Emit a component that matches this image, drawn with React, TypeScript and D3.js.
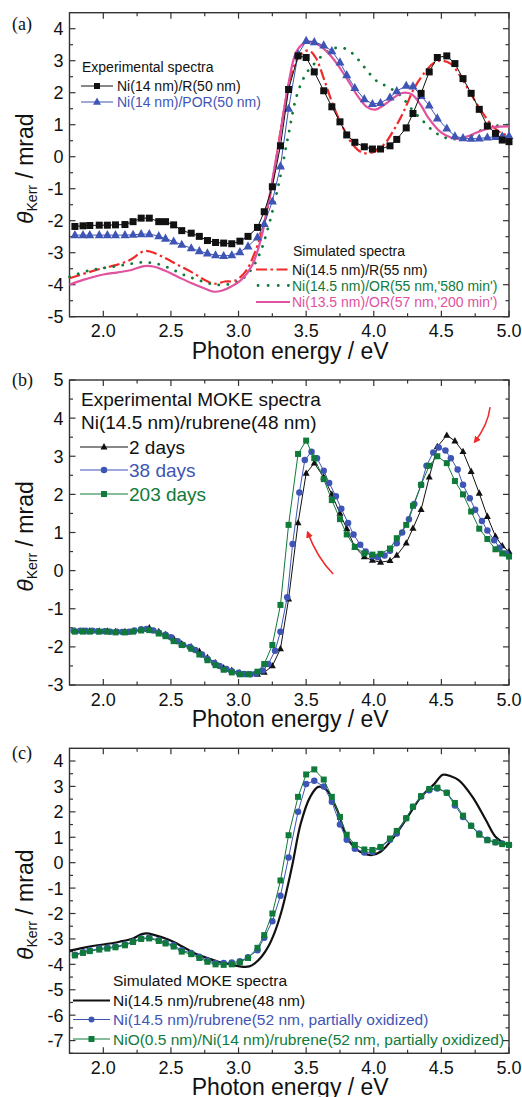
import React from "react";
import * as d3 from "d3";

// ---------------- DATA ----------------
// energy grid of the experimental spectra (eV)
const gridE = [1.79,1.85,1.90,1.97,2.03,2.09,2.16,2.22,2.28,2.34,2.41,2.46,2.52,2.58,2.65,2.71,2.77,2.83,2.89,2.95,3.01,3.07,3.14,3.19,3.25,3.31,3.37,3.44,3.50,3.56,3.63,3.69,3.75,3.80,3.86,3.93,3.99,4.05,4.12,4.17,4.24,4.29,4.35,4.41,4.47,4.54,4.60,4.66,4.72,4.78,4.84,4.90,4.95,5.00];

// (a) experimental
const aNiR = [-2.18,-2.16,-2.15,-2.14,-2.14,-2.13,-2.12,-2.03,-1.92,-1.92,-2.03,-2.03,-2.13,-2.31,-2.39,-2.49,-2.62,-2.68,-2.70,-2.72,-2.64,-2.49,-2.21,-1.72,-0.94,0.34,2.10,3.15,3.10,2.65,2.06,1.56,1.09,0.68,0.45,0.31,0.24,0.24,0.34,0.54,0.90,1.35,1.98,2.65,3.10,3.15,2.91,2.44,1.98,1.48,0.96,0.73,0.52,0.47];
const aNiPOR = [-2.45,-2.45,-2.45,-2.45,-2.45,-2.45,-2.45,-2.44,-2.42,-2.42,-2.48,-2.56,-2.65,-2.75,-2.86,-2.95,-3.02,-3.08,-3.10,-3.08,-2.98,-2.80,-2.52,-2.10,-1.40,-0.30,1.50,3.20,3.62,3.58,3.48,3.30,2.95,2.55,2.15,1.80,1.65,1.68,1.85,2.05,2.22,2.20,1.90,1.60,1.20,0.88,0.64,0.58,0.56,0.57,0.60,0.62,0.64,0.65];

// (a) simulated
const aSimRE = [1.75,1.9,2.0,2.1,2.2,2.3,2.35,2.45,2.55,2.65,2.75,2.82,2.9,2.97,3.05,3.12,3.2,3.27,3.33,3.4,3.46,3.52,3.57,3.63,3.7,3.78,3.85,3.92,4.0,4.08,4.15,4.22,4.3,4.38,4.45,4.5,4.57,4.65,4.72,4.8,4.88,4.95,5.0];
const aSimR = [-3.8,-3.6,-3.48,-3.38,-3.22,-2.95,-2.97,-3.15,-3.38,-3.6,-3.85,-3.97,-3.9,-3.88,-3.6,-3.0,-1.9,-0.3,1.3,2.7,3.2,3.32,3.1,2.45,1.6,0.85,0.35,0.12,0.15,0.4,0.85,1.4,2.15,2.65,2.95,3.0,2.9,2.45,1.95,1.4,0.95,0.72,0.66];
const aSim580E = [1.75,1.9,2.0,2.1,2.2,2.3,2.4,2.5,2.6,2.7,2.8,2.9,3.0,3.08,3.15,3.22,3.3,3.37,3.43,3.5,3.57,3.63,3.7,3.78,3.85,3.93,4.02,4.11,4.2,4.28,4.37,4.45,4.54,4.62,4.7,4.82,4.9,5.0];
const aSim580 = [-3.75,-3.55,-3.48,-3.42,-3.35,-3.3,-3.35,-3.5,-3.7,-3.85,-3.98,-4.0,-3.9,-3.6,-3.1,-2.2,-0.8,0.7,1.9,2.6,2.95,3.2,3.38,3.39,3.2,2.8,2.37,2.17,1.9,1.49,1.09,0.77,0.58,0.55,0.62,0.88,0.96,1.0];
const aSim200E = [1.75,1.85,2.0,2.1,2.2,2.3,2.37,2.45,2.55,2.65,2.75,2.82,2.88,2.95,3.02,3.1,3.17,3.23,3.3,3.37,3.43,3.5,3.57,3.65,3.72,3.8,3.88,3.95,4.01,4.07,4.15,4.21,4.28,4.35,4.40,4.5,4.57,4.63,4.72,4.8,4.9,5.0];
const aSim200 = [-4.0,-3.85,-3.68,-3.62,-3.55,-3.42,-3.43,-3.55,-3.75,-3.95,-4.12,-4.22,-4.18,-4.05,-3.85,-3.4,-2.5,-1.2,0.5,2.3,3.3,3.58,3.55,3.3,2.95,2.45,1.9,1.55,1.47,1.6,1.85,1.99,1.95,1.6,1.24,0.75,0.6,0.56,0.68,0.82,0.93,0.95];

// (b) experimental MOKE, aging
const bDay2 = [-1.58,-1.58,-1.58,-1.59,-1.59,-1.60,-1.60,-1.60,-1.55,-1.50,-1.60,-1.68,-1.78,-1.92,-2.00,-2.12,-2.28,-2.42,-2.55,-2.62,-2.68,-2.72,-2.72,-2.67,-2.50,-2.05,-0.75,1.25,2.55,2.82,2.45,2.00,1.50,1.10,0.62,0.36,0.27,0.22,0.26,0.40,0.72,1.11,1.60,2.45,3.25,3.55,3.40,3.12,2.60,2.03,1.42,0.90,0.65,0.50];
const bDay203 = [-1.60,-1.60,-1.60,-1.60,-1.60,-1.62,-1.62,-1.60,-1.57,-1.56,-1.65,-1.72,-1.85,-1.95,-2.05,-2.20,-2.35,-2.48,-2.60,-2.67,-2.72,-2.72,-2.65,-2.45,-1.95,-0.90,1.20,3.06,3.41,2.95,2.40,1.85,1.35,0.95,0.62,0.45,0.42,0.44,0.58,0.85,1.20,1.70,2.25,2.75,3.00,2.82,2.35,2.00,1.55,1.10,0.83,0.56,0.45,0.37];
const bDay38E = [1.78,1.83,1.87,1.92,1.96,2.01,2.05,2.10,2.14,2.19,2.23,2.28,2.32,2.37,2.41,2.46,2.50,2.55,2.59,2.64,2.68,2.73,2.77,2.82,2.86,2.91,2.95,3.00,3.04,3.09,3.13,3.18,3.22,3.27,3.31,3.36,3.40,3.45,3.49,3.54,3.58,3.63,3.67,3.72,3.76,3.81,3.85,3.90,3.94,3.99,4.03,4.08,4.12,4.17,4.21,4.26,4.30,4.35,4.39,4.44,4.48,4.53,4.57,4.62,4.66,4.71,4.75,4.80,4.84,4.89,4.93,4.98];
const bDay38 = [-1.58,-1.58,-1.58,-1.58,-1.59,-1.59,-1.60,-1.60,-1.61,-1.60,-1.57,-1.54,-1.53,-1.57,-1.63,-1.68,-1.75,-1.85,-1.95,-2.00,-2.08,-2.20,-2.32,-2.42,-2.50,-2.58,-2.64,-2.68,-2.71,-2.72,-2.70,-2.62,-2.45,-2.10,-1.60,-0.70,0.70,2.05,2.90,3.12,2.95,2.62,2.30,1.95,1.62,1.25,0.95,0.68,0.50,0.38,0.35,0.40,0.52,0.72,1.00,1.35,1.75,2.25,2.75,3.10,3.23,3.15,2.95,2.65,2.25,1.90,1.60,1.30,1.05,0.80,0.60,0.45];

// (c) simulated MOKE
const cSimE = [1.75,1.85,1.97,2.05,2.12,2.22,2.28,2.32,2.38,2.48,2.55,2.67,2.77,2.85,2.95,3.02,3.08,3.12,3.17,3.22,3.27,3.32,3.36,3.40,3.46,3.53,3.59,3.65,3.73,3.80,3.88,3.98,4.05,4.15,4.25,4.35,4.45,4.51,4.57,4.63,4.73,4.83,4.90,4.97,5.00];
const cRub48 = [-3.46,-3.35,-3.24,-3.18,-3.11,-2.98,-2.82,-2.78,-2.85,-3.02,-3.2,-3.55,-3.75,-3.9,-4.02,-4.09,-4.08,-3.96,-3.7,-3.3,-2.7,-1.87,-1.0,-0.03,1.54,2.59,2.98,2.87,2.06,1.02,0.49,0.3,0.43,1.02,1.8,2.59,3.11,3.46,3.4,3.24,2.59,1.67,1.02,0.75,0.69];
const cRub52 = [-3.62,-3.52,-3.45,-3.38,-3.35,-3.30,-3.22,-3.10,-2.98,-2.95,-3.05,-3.15,-3.25,-3.45,-3.55,-3.70,-3.85,-3.95,-3.95,-3.93,-3.88,-3.72,-3.45,-2.95,-2.30,-1.30,0.20,2.00,3.10,3.22,3.00,2.40,1.50,0.90,0.55,0.40,0.42,0.60,0.90,1.15,1.75,2.20,2.60,2.85,2.92,2.75,2.25,1.80,1.45,1.15,0.90,0.80,0.75,0.70];
const cNiO = [-3.65,-3.55,-3.48,-3.42,-3.38,-3.33,-3.25,-3.12,-3.00,-2.98,-3.08,-3.18,-3.30,-3.50,-3.60,-3.75,-3.90,-4.00,-4.02,-4.00,-3.92,-3.75,-3.35,-2.85,-2.00,-0.70,1.08,2.59,3.47,3.67,3.27,2.59,1.80,1.10,0.70,0.52,0.50,0.62,0.95,1.25,1.75,2.20,2.62,2.90,2.95,2.75,2.35,1.85,1.45,1.10,0.88,0.80,0.73,0.70];

// ticks
const xMajor = [2.0, 2.5, 3.0, 3.5, 4.0, 4.5, 5.0];
const xMinor = [2.25, 2.75, 3.25, 3.75, 4.25, 4.75];
const yTicksA = [-5, -4, -3, -2, -1, 0, 1, 2, 3, 4];
const yTicksB = [-3, -2, -1, 0, 1, 2, 3, 4, 5];
const yTicksC = [-7, -6, -5, -4, -3, -2, -1, 0, 1, 2, 3, 4];

// labels
const legendA1Title = "Experimental spectra";
const legendA1 = ["Ni(14 nm)/R(50 nm)", "Ni(14 nm)/POR(50 nm)"];
const legendA2Title = "Simulated spectra";
const legendA2 = ["Ni(14.5 nm)/R(55 nm)", "Ni(14.5 nm)/OR(55 nm,'580 min')", "Ni(13.5 nm)/OR(57 nm,'200 min')"];
const legendBTitle = ["Experimental MOKE spectra", "Ni(14.5 nm)/rubrene(48 nm)"];
const legendB = ["2 days", "38 days", "203 days"];
const legendCTitle = "Simulated MOKE spectra";
const legendC = ["Ni(14.5 nm)/rubrene(48 nm)", "Ni(14.5 nm)/rubrene(52 nm, partially oxidized)", "NiO(0.5 nm)/Ni(14 nm)/rubrene(52 nm, partially oxidized)"];

// ---------------- STYLE / LAYOUT ----------------
const FONT = "'Liberation Sans', Arial, Helvetica, sans-serif";
const SERIF = "'Liberation Serif', 'Times New Roman', serif";
const BLACK = "#111111";
const BLUE = "#3f55b5";
const GREEN = "#0f7a3a";
const RED = "#ee2a2a";
const PINK = "#e0529e";
const AXIS = "#333333";

const XL = 69.5, XR = 509;
const x = d3.scaleLinear().domain([1.75, 5.0]).range([XL, XR]);
const yA = d3.scaleLinear().domain([-5, 4.5]).range([316.7, 12.7]);
const yB = d3.scaleLinear().domain([-3, 5]).range([685, 380]);
const yC = d3.scaleLinear().domain([-7.5, 4.5]).range([1053.3, 748.3]);

type Mk = "square" | "triangle" | "circle" | undefined;

function marker(kind: Mk, cx: number, cy: number, s: number, color: string, key: any) {
  if (kind === "square") return <rect key={key} x={cx - s / 2} y={cy - s / 2} width={s} height={s} fill={color} />;
  if (kind === "circle") return <circle key={key} cx={cx} cy={cy} r={s / 2} fill={color} />;
  if (kind === "triangle") {
    const h = s * 0.9;
    return <path key={key} d={`M${cx},${cy - h * 0.62}L${cx + s / 2},${cy + h * 0.38}L${cx - s / 2},${cy + h * 0.38}Z`} fill={color} />;
  }
  return null;
}

function Series({ xs, ys, y, color, mk, ms = 6, lw = 1, dash, cap = "butt", smooth = false }: any) {
  const pts: [number, number][] = xs.map((e: number, i: number) => [x(e), y(ys[i])]);
  const line = d3.line().curve(smooth ? d3.curveCatmullRom.alpha(0.5) : d3.curveLinear)(pts) || "";
  return (
    <g>
      <path d={line} fill="none" stroke={color} strokeWidth={lw} strokeDasharray={dash} strokeLinecap={cap} strokeLinejoin="round" />
      {mk && pts.map((p, i) => marker(mk, p[0], p[1], ms, color, i))}
    </g>
  );
}

function Frame({ y, yTicks, label, labelY }: any) {
  const [b, t] = y.range();
  const minorY: number[] = [];
  yTicks.forEach((v: number) => {
    const m = v + 0.5;
    if (m < y.domain()[1] - 1e-6) minorY.push(m);
  });
  if (y.domain()[0] < yTicks[0] - 0.25) minorY.push(yTicks[0] - 0.5);
  const cy = (b + t) / 2 + 4;
  const ML = 6, MN = 3.5;
  return (
    <g>
      {xMajor.map((v) => (
        <g key={"xm" + v}>
          <line x1={x(v)} x2={x(v)} y1={b} y2={b - ML} stroke={AXIS} strokeWidth={1.2} />
          <line x1={x(v)} x2={x(v)} y1={t} y2={t + ML} stroke={AXIS} strokeWidth={1.2} />
          <text x={x(v)} y={b + 20.5} textAnchor="middle" fontSize={18} fontFamily={FONT} fill={BLACK}>{d3.format(".1f")(v)}</text>
        </g>
      ))}
      {xMinor.map((v) => (
        <g key={"xn" + v}>
          <line x1={x(v)} x2={x(v)} y1={b} y2={b - MN} stroke={AXIS} strokeWidth={1.2} />
          <line x1={x(v)} x2={x(v)} y1={t} y2={t + MN} stroke={AXIS} strokeWidth={1.2} />
        </g>
      ))}
      {yTicks.map((v: number) => (
        <g key={"ym" + v}>
          <line x1={XL} x2={XL + ML} y1={y(v)} y2={y(v)} stroke={AXIS} strokeWidth={1.2} />
          <line x1={XR} x2={XR - ML} y1={y(v)} y2={y(v)} stroke={AXIS} strokeWidth={1.2} />
          <text x={63.5} y={y(v)} dy="0.36em" textAnchor="end" fontSize={18} fontFamily={FONT} fill={BLACK}>{v}</text>
        </g>
      ))}
      {minorY.map((v: number) => (
        <g key={"yn" + v}>
          <line x1={XL} x2={XL + MN} y1={y(v)} y2={y(v)} stroke={AXIS} strokeWidth={1.2} />
          <line x1={XR} x2={XR - MN} y1={y(v)} y2={y(v)} stroke={AXIS} strokeWidth={1.2} />
        </g>
      ))}
      <rect x={XL} y={t} width={XR - XL} height={b - t} fill="none" stroke={AXIS} strokeWidth={1.4} />
      <text x={(XL + XR) / 2 + 1} y={b + 42} textAnchor="middle" fontSize={23} fontFamily={FONT} fill={BLACK}>Photon energy / eV</text>
      <text transform={`translate(33,${cy}) rotate(-90)`} textAnchor="middle" fontSize={23} fontFamily={FONT} fill={BLACK}>
        <tspan fontStyle="italic">θ</tspan>
        <tspan fontSize={14} dy={4}>Kerr</tspan>
        <tspan dy={-4}> / mrad</tspan>
      </text>
      <text x={12} y={labelY} fontSize={18} fontFamily={SERIF} fill={BLACK}>{label}</text>
    </g>
  );
}

function LegendRow({ x0, x1, yy, color, mk, ms, lw = 1, dash, cap, text, tcolor, fs, tx }: any) {
  return (
    <g>
      <line x1={x0} x2={x1} y1={yy} y2={yy} stroke={color} strokeWidth={lw} strokeDasharray={dash} strokeLinecap={cap} />
      {mk && marker(mk, (x0 + x1) / 2, yy, ms, color, "m")}
      <text x={tx} y={yy} dy="0.36em" fontSize={fs} fontFamily={FONT} fill={tcolor}>{text}</text>
    </g>
  );
}

export default function App() {
  const arrow1 = { x0: x(4.86), y0: yB(4.29), x1: x(4.745), y1: yB(3.37) };
  const arrow2 = { x0: x(3.70), y0: yB(-0.09), x1: x(3.51), y1: yB(1.01) };
  return (
    <svg width={522} height={1097} viewBox="0 0 522 1097" style={{ position: "absolute", left: 0, top: 0, background: "#fff" }}>
      <defs>
        <marker id="arrowhead" viewBox="0 0 10 10" refX="8" refY="5" markerWidth="7" markerHeight="7" orient="auto" markerUnits="userSpaceOnUse">
          <path d="M0,0L10,5L0,10Z" fill={RED} />
        </marker>
      </defs>
      <rect x={0} y={0} width={522} height={1097} fill="#fff" />

      {/* ---------- (a) ---------- */}
      <Frame y={yA} yTicks={yTicksA} label="(a)" labelY={30} />
      <Series xs={aSimRE} ys={aSimR} y={yA} color={RED} lw={2.2} dash="11,3.5,2.5,3.5" smooth />
      <Series xs={aSim580E} ys={aSim580} y={yA} color={GREEN} lw={2.8} dash="0.1,9" cap="round" smooth />
      <Series xs={aSim200E} ys={aSim200} y={yA} color={PINK} lw={2.2} smooth />
      <Series xs={gridE} ys={aNiPOR} y={yA} color={BLUE} mk="triangle" ms={9} />
      <Series xs={gridE} ys={aNiR} y={yA} color={BLACK} mk="square" ms={7} />
      <text x={82} y={72} fontSize={14} fontFamily={FONT} fill={BLACK}>{legendA1Title}</text>
      <LegendRow x0={81} x1={113} yy={86} color={BLACK} mk="square" ms={6} text={legendA1[0]} tcolor={BLACK} fs={14} tx={117} />
      <LegendRow x0={81} x1={113} yy={102} color={BLUE} mk="triangle" ms={8} text={legendA1[1]} tcolor={BLUE} fs={14} tx={117} />
      <text x={293} y={256} fontSize={14} fontFamily={FONT} fill={BLACK}>{legendA2Title}</text>
      <LegendRow x0={256} x1={290} yy={269.5} color={RED} lw={2.2} dash="11,3.5,2.5,3.5" text={legendA2[0]} tcolor={BLACK} fs={14} tx={292} />
      <LegendRow x0={258} x1={290} yy={285.5} color={GREEN} lw={2.8} dash="0.1,10" cap="round" text={legendA2[1]} tcolor={GREEN} fs={14} tx={292} />
      <LegendRow x0={256} x1={290} yy={302} color={PINK} lw={2.2} text={legendA2[2]} tcolor={PINK} fs={14} tx={292} />

      {/* ---------- (b) ---------- */}
      <Frame y={yB} yTicks={yTicksB} label="(b)" labelY={386} />
      <Series xs={gridE} ys={bDay2} y={yB} color={BLACK} mk="triangle" ms={7} />
      <Series xs={bDay38E} ys={bDay38} y={yB} color={BLUE} mk="circle" ms={6.5} />
      <Series xs={gridE} ys={bDay203} y={yB} color={GREEN} mk="square" ms={6} />
      <text x={81} y={406} fontSize={19} fontFamily={FONT} fill={BLACK}>{legendBTitle[0]}</text>
      <text x={81} y={429} fontSize={19} fontFamily={FONT} fill={BLACK}>{legendBTitle[1]}</text>
      <LegendRow x0={80} x1={128} yy={447} color={BLACK} mk="triangle" ms={7} text={legendB[0]} tcolor={BLACK} fs={19} tx={129} />
      <LegendRow x0={80} x1={128} yy={470} color={BLUE} mk="circle" ms={6.5} text={legendB[1]} tcolor={BLUE} fs={19} tx={129} />
      <LegendRow x0={80} x1={128} yy={494} color={GREEN} mk="square" ms={6} text={legendB[2]} tcolor={GREEN} fs={19} tx={129} />
      <path d={`M${arrow1.x0},${arrow1.y0}Q${arrow1.x0 - 2},${(arrow1.y0 + arrow1.y1) / 2} ${arrow1.x1},${arrow1.y1}`} fill="none" stroke={RED} strokeWidth={1.5} markerEnd="url(#arrowhead)" />
      <path d={`M${arrow2.x0},${arrow2.y0}Q${(arrow2.x0 + arrow2.x1) / 2 - 3},${(arrow2.y0 + arrow2.y1) / 2 + 5} ${arrow2.x1},${arrow2.y1}`} fill="none" stroke={RED} strokeWidth={1.5} markerEnd="url(#arrowhead)" />

      {/* ---------- (c) ---------- */}
      <Frame y={yC} yTicks={yTicksC} label="(c)" labelY={759} />
      <Series xs={cSimE} ys={cRub48} y={yC} color={BLACK} lw={2.2} smooth />
      <Series xs={gridE} ys={cRub52} y={yC} color={BLUE} mk="circle" ms={6.5} />
      <Series xs={gridE} ys={cNiO} y={yC} color={GREEN} mk="square" ms={6} />
      <text x={113} y={986} fontSize={15.5} fontFamily={FONT} fill={BLACK}>{legendCTitle}</text>
      <LegendRow x0={73} x1={110} yy={1000.5} color={BLACK} lw={2.2} text={legendC[0]} tcolor={BLACK} fs={15.5} tx={113} />
      <LegendRow x0={73} x1={110} yy={1019.5} color={BLUE} mk="circle" ms={6} text={legendC[1]} tcolor={BLUE} fs={15.5} tx={113} />
      <LegendRow x0={73} x1={110} yy={1039} color={GREEN} mk="square" ms={6} text={legendC[2]} tcolor={GREEN} fs={15.5} tx={113} />
    </svg>
  );
}
